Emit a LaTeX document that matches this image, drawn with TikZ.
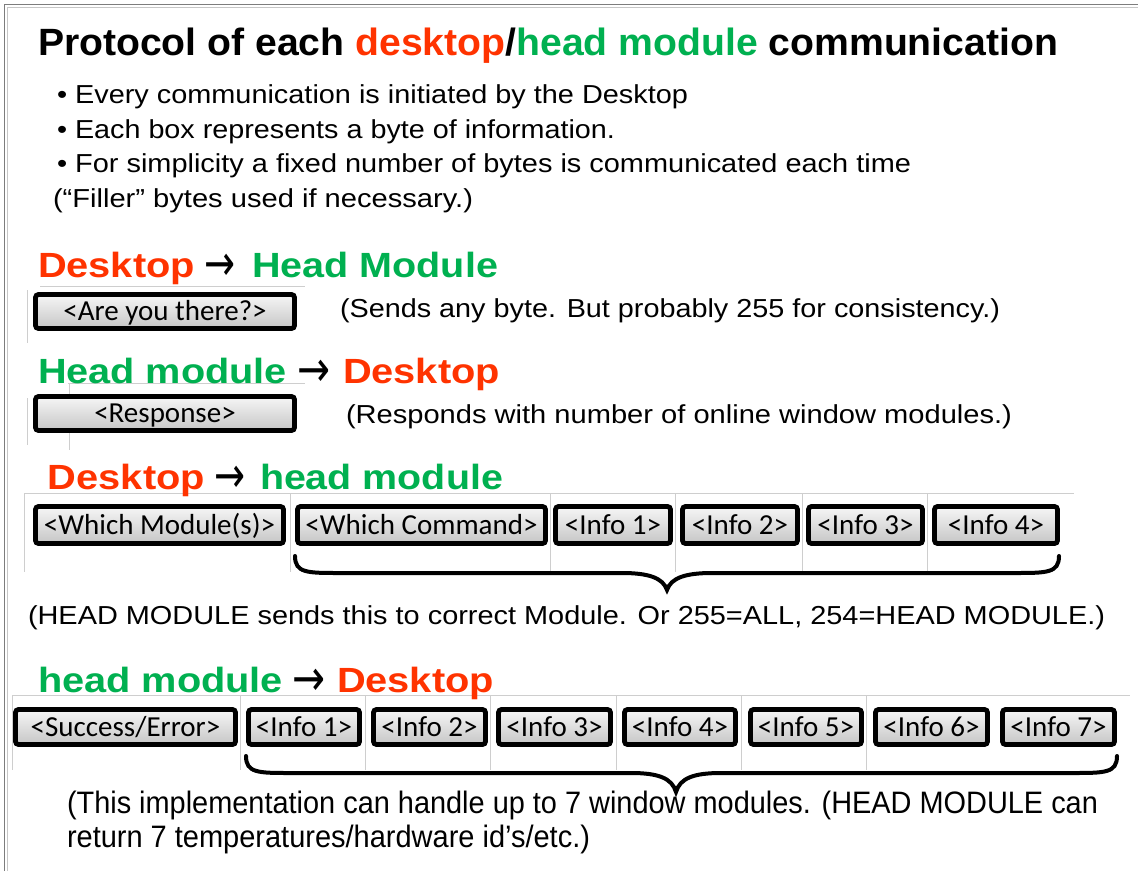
\documentclass[tikz,border=0pt]{standalone}
\usepackage{fontspec}
\usepackage{graphicx}
\setmainfont{Liberation Sans}
\newfontfamily\boxfont{Carlito}
\newfontfamily\symfont{DejaVu Sans}
\definecolor{deskred}{RGB}{255,51,0}
\definecolor{modgreen}{RGB}{0,176,80}
\definecolor{boxtop}{RGB}{246,246,246}
\definecolor{boxbot}{RGB}{198,198,198}
\definecolor{gridline}{RGB}{206,206,206}
\definecolor{framegray}{RGB}{125,125,125}
% stretch a line of text horizontally to a given width, keeping its height
\newcommand\fitw[2]{\resizebox{#1}{\height}{#2}}
% curly brace under a row of bytes: x0, x1, tip x, end y, bar y, tip y
\newcommand\bytebrace[6]{%
  \draw[brace] (#1,#4) .. controls (#1,#5) and (#1+12,#5) .. (#1+45,#5)
    -- (#3-45,#5) .. controls (#3-18,#5) and (#3-4,#5+5) .. (#3,#6)
    .. controls (#3+4,#5+5) and (#3+18,#5) .. (#3+45,#5)
    -- (#2-45,#5) .. controls (#2-12,#5) and (#2,#5) .. (#2,#4);}

\begin{document}
\begin{tikzpicture}[x=1pt,y=-1pt,
  txt/.style={anchor=base west, inner sep=0pt, outer sep=0pt},
  body/.style={txt, font=\fontsize{26}{30}\selectfont},
  narrow/.style={txt, font=\fontsize{31}{35}\selectfont},
  head/.style={txt, font=\fontsize{35}{40}\selectfont\bfseries},
  arr/.style={txt, font=\fontsize{50}{54}\selectfont\symfont},
  byte/.style={draw=black, line width=4.8pt, rounded corners=3pt,
    top color=boxtop, bottom color=boxbot, inner sep=0pt,
    text height=18.5pt, text depth=0pt,
    font=\fontsize{29}{32}\selectfont\boxfont},
  grid/.style={draw=gridline, line width=0.8pt},
  brace/.style={draw=black, line width=4pt, line cap=round},
]
\useasboundingbox (0,0) rectangle (1138,871);
\fill[white] (0,0) rectangle (1138,871);

% page frame (left and top edges)
\draw[framegray, line width=1.6pt] (4.5,871) -- (4.5,4.5) -- (1138,4.5);
\draw[gray!45, line width=1pt] (7.5,871) -- (7.5,7.5) -- (1138,7.5);

% title and notes
\node[txt, font=\fontsize{38}{44}\selectfont\bfseries] (title) at (38,55)
  {\fitw{1020pt}{Protocol of each \textcolor{deskred}{desktop}/\textcolor{modgreen}{head module} communication}};
\node[body] (l1) at (57,103) {\fitw{631pt}{• Every communication is initiated by the Desktop}};
\node[body] (l2) at (57,138) {\fitw{558pt}{• Each box represents a byte of information.}};
\node[body] (l3) at (57,172) {\fitw{854pt}{• For simplicity a fixed number of bytes is communicated each time}};
\node[body] (l4) at (53,207) {\fitw{420pt}{(“Filler” bytes used if necessary.)}};

% faint cell outlines behind the byte boxes
\draw[grid] (40,286) -- (305,286);
\draw[grid] (27,290) -- (27,343);
\draw[grid] (68,383) -- (305,383);
\draw[grid] (69,383) -- (69,450);
\draw[grid] (27,398) -- (27,445);
\draw[grid] (24,493) -- (1074,493);
\foreach \gx in {24,290,550,675,802,927}
  \draw[grid] (\gx,493) -- (\gx,572);
\draw[grid] (12,695) -- (1130,695);
\foreach \gx in {12,240,365,490,616,741,866}
  \draw[grid] (\gx,695) -- (\gx,770);

% Desktop -> Head Module
\node[head, text=deskred] (h1a) at (38,277) {\fitw{157pt}{Desktop}};
\node[arr] (h1b) at (204,280) {\fitw{31pt}{→}};
\node[head, text=modgreen] (h1c) at (252,277) {\fitw{246pt}{Head Module}};
\node[byte, minimum width=259pt, minimum height=34pt] (ask) at (165,311.5) {<Are you there?>};
\node[body] (n1) at (340,317) {\fitw{660pt}{(Sends any byte. But probably 255 for consistency.)}};

% Head module -> Desktop
\node[head, text=modgreen] (h2a) at (38,383) {\fitw{249pt}{Head module}};
\node[arr] (h2b) at (297,386) {\fitw{33pt}{→}};
\node[head, text=deskred] (h2c) at (343,383) {\fitw{157pt}{Desktop}};
\node[byte, minimum width=259pt, minimum height=34pt] (resp) at (165,413.5) {<Response>};
\node[body] (n2) at (346,423) {\fitw{666pt}{(Responds with number of online window modules.)}};

% Desktop -> head module
\node[head, text=deskred] (h3a) at (48,489) {\fitw{157pt}{Desktop}};
\node[arr] (h3b) at (214,492) {\fitw{31pt}{→}};
\node[head, text=modgreen] (h3c) at (260,489) {\fitw{243pt}{head module}};
\node[byte, minimum width=248pt, minimum height=37pt] (wm) at (159.5,525) {<Which Module(s)>};
\node[byte, minimum width=248pt, minimum height=37pt] (wc) at (421.5,525) {<Which Command>};
\node[byte, minimum width=115pt, minimum height=37pt] (a1) at (613,525) {<Info 1>};
\node[byte, minimum width=115pt, minimum height=37pt] (a2) at (740,525) {<Info 2>};
\node[byte, minimum width=114pt, minimum height=37pt] (a3) at (865.5,525) {<Info 3>};
\node[byte, minimum width=123pt, minimum height=37pt] (a4) at (996,525) {<Info 4>};
\bytebrace{295}{1059}{667}{556}{573}{590}
\node[body] (n3) at (28,624) {\fitw{1077pt}{(HEAD MODULE sends this to correct Module. Or 255=ALL, 254=HEAD MODULE.)}};

% head module -> Desktop
\node[head, text=modgreen] (h4a) at (38,692) {\fitw{245pt}{head module}};
\node[arr] (h4b) at (292,695) {\fitw{33pt}{→}};
\node[head, text=deskred] (h4c) at (337,692) {\fitw{157pt}{Desktop}};
\node[byte, minimum width=220pt, minimum height=35pt] (se) at (125.5,727) {<Success/Error>};
\node[byte, minimum width=111pt, minimum height=35pt] (b1) at (304,727) {<Info 1>};
\node[byte, minimum width=112pt, minimum height=35pt] (b2) at (429.5,727) {<Info 2>};
\node[byte, minimum width=112pt, minimum height=35pt] (b3) at (554.5,727) {<Info 3>};
\node[byte, minimum width=111pt, minimum height=35pt] (b4) at (680,727) {<Info 4>};
\node[byte, minimum width=111pt, minimum height=35pt] (b5) at (806,727) {<Info 5>};
\node[byte, minimum width=112pt, minimum height=35pt] (b6) at (931.5,727) {<Info 6>};
\node[byte, minimum width=112pt, minimum height=35pt] (b7) at (1058.5,727) {<Info 7>};
\bytebrace{246}{1117}{676}{756}{773}{792}
\node[narrow] (n4) at (67,813) {\fitw{1031pt}{(This implementation can handle up to 7 window modules. (HEAD MODULE can}};
\node[narrow] (n5) at (67,847) {\fitw{523pt}{return 7 temperatures/hardware id’s/etc.)}};
\end{tikzpicture}
\end{document}
